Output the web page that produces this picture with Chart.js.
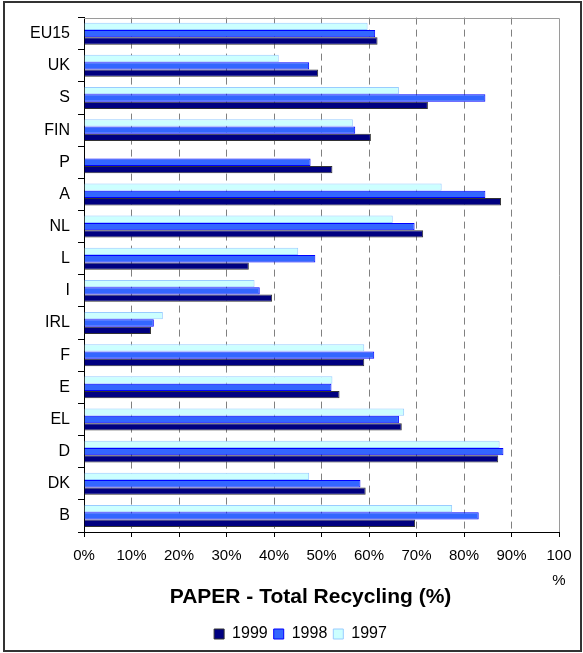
<!DOCTYPE html>
<html>
<head>
<meta charset="utf-8">
<title>PAPER - Total Recycling (%)</title>
<script src="https://cdn.jsdelivr.net/npm/chart.js@4/dist/chart.umd.min.js"></script>
<style>
  html, body { margin: 0; padding: 0; background: #fff; }
  #wrap { position: relative; width: 583px; height: 653px; }
  #frame {
    position: absolute; left: 3px; top: 1px; width: 579px; height: 651px;
    border: 2px solid #333; box-sizing: border-box; pointer-events: none;
  }
  canvas { display: block; }
</style>
</head>
<body>
<div id="wrap">
  <canvas id="chart" width="583" height="653"></canvas>
  <div id="frame"></div>
</div>
<script>
// Member states, listed top to bottom
const categories = ['EU15', 'UK', 'S', 'FIN', 'P', 'A', 'NL', 'L', 'I', 'IRL', 'F', 'E', 'EL', 'D', 'DK', 'B'];

// Paper recycling rate (%) per year
const values1997 = [59.7, 41.0, 66.3, 56.6, null, 75.3, 65.0, 45.1, 35.9, 16.6, 59.0, 52.3, 67.4, 87.5, 47.4, 77.5];
const values1998 = [61.3, 47.4, 84.5, 57.1, 47.7, 84.5, 69.6, 48.7, 37.0, 14.7, 61.1, 52.1, 66.3, 88.3, 58.2, 83.1];
const values1999 = [61.8, 49.3, 72.4, 60.4, 52.3, 87.8, 71.4, 34.7, 39.6, 14.1, 59.0, 53.8, 66.9, 87.2, 59.3, 69.7];

// Percentage axis
const xTickValues = [0, 10, 20, 30, 40, 50, 60, 70, 80, 90, 100];
const xTickLabels = ['0%', '10%', '20%', '30%', '40%', '50%', '60%', '70%', '80%', '90%', ['100', '%']];

const titleText = 'PAPER - Total Recycling (%)';
const FONT = "'Liberation Sans', Arial, Helvetica, sans-serif";

// Grey frame along the top and right of the plot area
const plotFrame = {
  id: 'plotFrame',
  beforeDatasetsDraw(chart) {
    const { ctx, chartArea: a } = chart;
    const top = Math.round(a.top) + 0.5;
    const right = Math.round(a.right) + 0.5;
    ctx.save();
    ctx.strokeStyle = '#9a9a9a';
    ctx.lineWidth = 1;
    ctx.beginPath();
    ctx.moveTo(a.left, top);
    ctx.lineTo(right, top);
    ctx.lineTo(right, a.bottom);
    ctx.stroke();
    ctx.restore();
  }
};

// Nudge the title and legend to the right under the plot
const TITLE_SHIFT = 29;
const LEGEND_SHIFT = 19;
const shiftBlocks = {
  id: 'shiftBlocks',
  afterLayout(chart) {
    if (chart.titleBlock) { chart.titleBlock.left += TITLE_SHIFT; chart.titleBlock.right += TITLE_SHIFT; }
    if (chart.legend) { chart.legend.left += LEGEND_SHIFT; chart.legend.right += LEGEND_SHIFT; }
  }
};

Chart.defaults.font.family = FONT;
Chart.defaults.color = '#000';

new Chart(document.getElementById('chart'), {
  type: 'bar',
  data: {
    labels: categories,
    datasets: [
      { label: '1997', data: values1997, backgroundColor: '#CCFFFF', borderColor: '#99CCFF' },
      { label: '1998', data: values1998, backgroundColor: '#3366FF', borderColor: '#0000FF' },
      { label: '1999', data: values1999, backgroundColor: '#000080', borderColor: '#333333' }
    ]
  },
  options: {
    indexAxis: 'y',
    responsive: false,
    animation: false,
    devicePixelRatio: 1,
    layout: { padding: { left: 4, right: 24, top: 17, bottom: 1 } },
    datasets: {
      bar: { barPercentage: 1, categoryPercentage: 0.683, borderWidth: 1 }
    },
    scales: {
      x: {
        type: 'linear',
        min: 0,
        max: 100,
        afterBuildTicks(scale) { scale.ticks = xTickValues.map(v => ({ value: v })); },
        afterFit(scale) { scale.height = 57; },
        ticks: {
          autoSkip: false,
          maxRotation: 0,
          padding: 6,
          font: { size: 15, lineHeight: 1.7 },
          color: '#000',
          callback(value) { return xTickLabels[xTickValues.indexOf(value)]; }
        },
        grid: {
          color: c => (c.tick && c.tick.value > 0 && c.tick.value < 100) ? '#808080' : 'rgba(0,0,0,0)',
          lineWidth: 1,
          tickColor: '#000',
          tickLength: 5,
          drawTicks: true
        },
        border: { display: true, color: '#000', width: 1, dash: [7, 5] }
      },
      y: {
        afterFit(scale) { scale.width = 80; },
        ticks: { padding: 8, font: { size: 16 }, color: '#000' },
        grid: {
          drawOnChartArea: false,
          drawTicks: true,
          tickLength: 6,
          tickColor: '#000',
          offset: true
        },
        border: { display: true, color: '#000', width: 1 }
      }
    },
    plugins: {
      title: {
        display: true,
        text: titleText,
        position: 'bottom',
        weight: 500,
        color: '#000',
        font: { size: 21, weight: 'bold', lineHeight: 0.8 },
        padding: { top: 0, bottom: 14.2 }
      },
      legend: {
        position: 'bottom',
        reverse: true,
        labels: {
          boxWidth: 10,
          boxHeight: 10,
          padding: 6,
          color: '#000',
          font: { size: 16 }
        }
      },
      tooltip: { enabled: false }
    }
  },
  plugins: [plotFrame, shiftBlocks]
});
</script>
</body>
</html>
